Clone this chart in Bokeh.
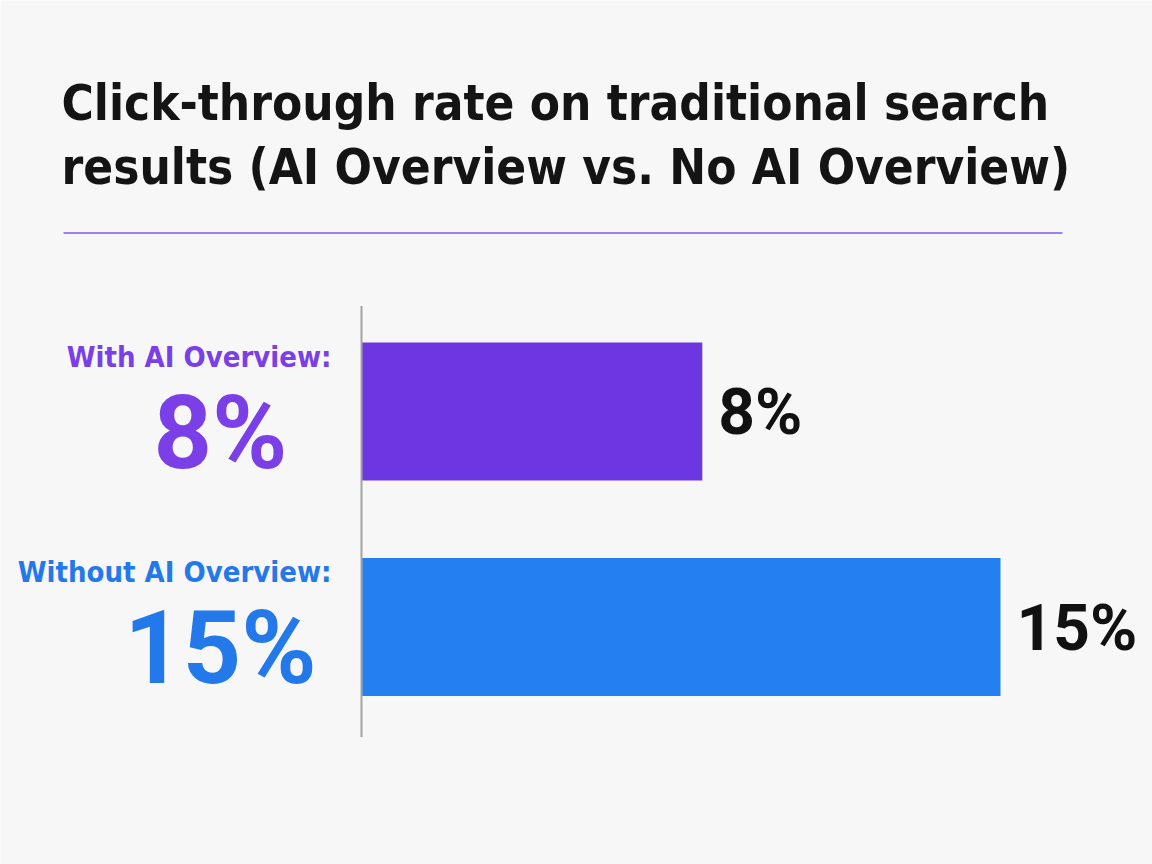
from bokeh.core.properties import value
from bokeh.embed import file_html
from bokeh.models import BoxAnnotation, ColumnDataSource, Label, Range1d
from bokeh.plotting import figure
from bokeh.resources import INLINE

# chart data
categories = ["With AI Overview:", "Without AI Overview:"]
ctr = [8, 15]
bar_colors = ["#6c36e0", "#2480f0"]
label_colors = ["#7a3fe6", "#2479ea"]
title_lines = ["Click-through rate on traditional search",
               "results (AI Overview vs. No AI Overview)"]

FONT = "DejaVu Sans Condensed, Roboto"
NUM_FONT = "Roboto"
W, H = 1152, 864
PX_PER_PCT = 42.6   # horizontal scale
ROW_PX = 215.5      # vertical distance between the two rows
ZERO_X = 361        # x of the 0% line
FIRST_ROW_Y = 411   # y of the first row's centre

x_start = -ZERO_X / PX_PER_PCT
x_end = (W - ZERO_X) / PX_PER_PCT
y_end = FIRST_ROW_Y / ROW_PX
y_start = y_end - H / ROW_PX

rows = [-i for i in range(len(categories))]
src = ColumnDataSource(data=dict(
    cat=categories,
    row=rows,
    ctr=ctr,
    pct=[f"{v}%" for v in ctr],
    bar_color=bar_colors,
    label_color=label_colors,
))

p = figure(width=W, height=H, output_backend="svg", toolbar_location=None,
           x_range=Range1d(x_start, x_end), y_range=Range1d(y_start, y_end),
           min_border=0, x_axis_location=None, y_axis_location=None)
p.background_fill_color = "#f7f7f8"
p.border_fill_color = "#f7f7f8"
p.outline_line_color = None
p.grid.grid_line_color = None

# bars
p.hbar(y="row", left=0, right="ctr", height=0.64, source=src,
       fill_color="bar_color", line_color=None)

# vertical baseline
p.segment(x0=0, y0=rows[0] + 0.49, x1=0, y1=rows[-1] - 0.51,
          line_color="#a3a3a3", line_width=2)

# value labels to the right of the bars
p.text(x="ctr", y="row", text="pct", source=src, x_offset=16, y_offset=1,
       text_font=value(NUM_FONT), text_font_style="bold", text_font_size="64px",
       text_color="#111111", text_align="left", text_baseline="middle")

# category labels on the left
p.text(x=0, y="row", text="cat", source=src, x_offset=-30, y_offset=-55,
       text_font=value(FONT), text_font_style="bold", text_font_size="29px",
       text_color="label_color", text_align="right", text_baseline="middle")
p.text(x=0, y="row", text="pct", source=src, x_offset=-141, y_offset=21,
       text_font=value(NUM_FONT), text_font_style="bold", text_font_size="102px",
       text_color="label_color", text_align="center", text_baseline="middle")

# title
for i, line in enumerate(title_lines):
    p.add_layout(Label(x=61, y=H - 103 - 64 * i, x_units="screen", y_units="screen",
                       text=line, text_font=FONT, text_font_style="bold",
                       text_font_size="49px", text_color="#141414",
                       text_baseline="alphabetic"))

# thin purple rule under the title
p.add_layout(BoxAnnotation(left=63, right=1062, bottom=H - 233.5, top=H - 231.5,
                           left_units="screen", right_units="screen",
                           bottom_units="screen", top_units="screen",
                           fill_color="#9d80ee", fill_alpha=1, line_color=None))

open("out.html", "w").write(file_html(p, INLINE))
